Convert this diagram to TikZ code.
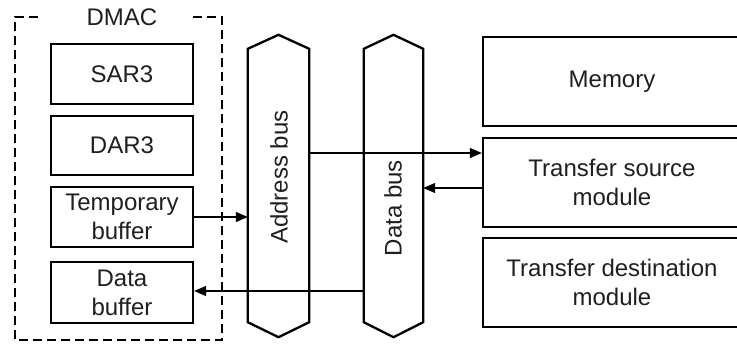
\documentclass[tikz,border=0pt]{standalone}
\usepackage{fontspec}
\setmainfont{Liberation Sans}
\usetikzlibrary{arrows.meta,calc}
\begin{document}
\begin{tikzpicture}[x=1pt,y=-1pt,
  every node/.style={font=\fontsize{24pt}{29pt}\selectfont, text=black!88},
  box/.style={draw, line width=2.3pt, inner sep=0pt, align=center},
  busbody/.style={inner sep=0pt, minimum width=61pt, minimum height=273pt},
  busline/.style={draw, line width=2.3pt, line join=miter},
  arr/.style={line width=1.2pt, -{Triangle[length=12pt,width=10pt]}},
  dashbox/.style={line width=2.3pt, dash pattern=on 9pt off 5pt}
]
\useasboundingbox (0,0) rectangle (737,349);
\clip (0,0) rectangle (737,349);

% DMAC dashed frame
\node[inner sep=0pt] (dmac) at (122,17) {DMAC};
\draw[dashbox] (193,17) -- (222,17) -- (222,340) -- (15,340) -- (15,17) -- (42,17);

% DMAC registers
\node[box, minimum width=142pt, minimum height=60pt] (sar) at (122,74) {SAR3};
\node[box, minimum width=142pt, minimum height=59pt] (dar) at (122,145.5) {DAR3};
\node[box, minimum width=142pt, minimum height=60pt] (tmp) at (122,217) {Temporary\\buffer};
\node[box, minimum width=142pt, minimum height=61pt] (dbuf) at (122,292.5) {Data\\buffer};

% buses
\node[busbody] (abus) at (278.5,185.5) {};
\draw[busline] (abus.north west) -- ([yshift=14pt]abus.north) -- (abus.north east)
  -- (abus.south east) -- ([yshift=-15pt]abus.south) -- (abus.south west) -- cycle;
\node[rotate=90] (alab) at (279,177) {Address bus};

\node[busbody, minimum width=59pt] (dbus) at (393.5,185.5) {};
\draw[busline] (dbus.north west) -- ([yshift=14pt]dbus.north) -- (dbus.north east)
  -- (dbus.south east) -- ([yshift=-15pt]dbus.south) -- (dbus.south west) -- cycle;
\node[rotate=90] (dlab) at (393,208) {Data bus};

% right-hand modules (open on the right)
\node[box, minimum width=258pt, minimum height=89pt] (mem) at (612,81.5) {Memory};
\node[box, minimum width=258pt, minimum height=89pt] (src) at (612,182.5) {Transfer source\\module};
\node[box, minimum width=258pt, minimum height=89pt] (dst) at (612,282.5) {Transfer destination\\module};

% connectors
\coordinate (ya) at ([yshift=29.5pt]src.west);
\coordinate (yb) at ([yshift=-5.5pt]src.west);
\coordinate (yc) at ([yshift=1.5pt]dbuf.east);
\draw[arr] (tmp.east) -- (tmp.east -| abus.west);
\draw[arr] (ya -| abus.east) -- (ya);
\draw[arr] (yb) -- (yb -| dbus.east);
\draw[arr] (yc -| dbus.west) -- (yc);
\end{tikzpicture}
\end{document}
